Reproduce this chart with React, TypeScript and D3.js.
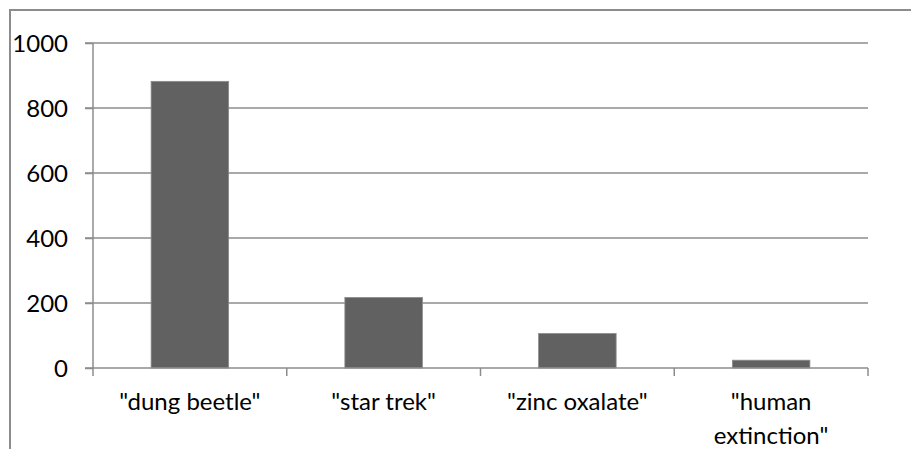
import React, { useEffect, useRef } from "react";
import * as d3 from "d3";

const categories = ['"dung beetle"', '"star trek"', '"zinc oxalate"', '"human extinction"'];
const values = [882, 217, 106, 24];
const yTicks = [0, 200, 400, 600, 800, 1000];

const App: React.FC = () => {
  const svgRef = useRef<SVGSVGElement>(null);

  useEffect(() => {
    const svg = d3.select(svgRef.current);
    svg.selectAll("*").remove();

    const width = 911;
    const height = 449;
    const margin = { top: 43, right: 43, bottom: 81, left: 93 };
    const innerWidth = width - margin.left - margin.right;
    const innerHeight = height - margin.top - margin.bottom;
    const font = "Lato, 'Open Sans', sans-serif";
    const fontSize = 24;

    // chart frame (cut off at right and bottom)
    svg
      .append("rect")
      .attr("x", 10)
      .attr("y", 10)
      .attr("width", 940)
      .attr("height", 500)
      .attr("fill", "white")
      .attr("stroke", "#8c8c8c")
      .attr("stroke-width", 2);

    const xScale = d3.scaleBand().domain(categories).range([0, innerWidth]).paddingInner(0).paddingOuter(0);
    const yScale = d3.scaleLinear().domain([0, 1000]).range([innerHeight, 0]);

    const g = svg.append("g").attr("transform", `translate(${margin.left}, ${margin.top})`);

    // gridlines
    g.selectAll(".grid")
      .data(yTicks.filter((t) => t > 0))
      .enter()
      .append("line")
      .attr("x1", -8)
      .attr("x2", innerWidth)
      .attr("y1", (d) => yScale(d))
      .attr("y2", (d) => yScale(d))
      .attr("stroke", "#8c8c8c")
      .attr("stroke-width", 1.5);

    // bars
    const bw = xScale.bandwidth();
    const barW = bw / 2.5;
    g.selectAll(".bar")
      .data(values)
      .enter()
      .append("rect")
      .attr("x", (d, i) => (xScale(categories[i]) || 0) + (bw - barW) / 2)
      .attr("y", (d) => yScale(d))
      .attr("width", barW)
      .attr("height", (d) => innerHeight - yScale(d))
      .attr("fill", "#616161")
      .attr("stroke", "#8a8a8a")
      .attr("stroke-width", 0.8);

    // y axis
    const yAxis = d3.axisLeft(yScale).tickValues(yTicks).tickFormat(d3.format("d")).tickSize(8).tickPadding(17);
    const yg = g.append("g").call(yAxis);
    yg.select(".domain").attr("stroke", "#8c8c8c").attr("stroke-width", 1.5).attr("d", `M0,${innerHeight}V0`);
    yg.selectAll(".tick line").attr("stroke", "#8c8c8c").attr("stroke-width", 1.5);
    yg.selectAll(".tick text")
      .attr("font-size", fontSize)
      .attr("font-family", font)
      .attr("fill", "#000")
      .attr("dy", null)
      .attr("y", 8);

    // x axis
    const xg = g.append("g").attr("transform", `translate(0, ${innerHeight})`);
    xg.append("line")
      .attr("x1", -8)
      .attr("x2", innerWidth)
      .attr("stroke", "#8c8c8c")
      .attr("stroke-width", 1.5);
    const bounds = categories.map((c) => xScale(c) || 0).concat([innerWidth]);
    xg.selectAll(".xtick")
      .data(bounds)
      .enter()
      .append("line")
      .attr("x1", (d) => d)
      .attr("x2", (d) => d)
      .attr("y1", 0)
      .attr("y2", 8)
      .attr("stroke", "#8c8c8c")
      .attr("stroke-width", 1.5);

    categories.forEach((c) => {
      const cx = (xScale(c) || 0) + bw / 2;
      const words = c === '"human extinction"' ? ['"human', 'extinction"'] : [c];
      const t = xg
        .append("text")
        .attr("text-anchor", "middle")
        .attr("font-size", fontSize)
        .attr("font-family", font)
        .attr("fill", "#000");
      words.forEach((w, i) => {
        t.append("tspan").attr("x", cx).attr("y", 42 + i * 34).text(w);
      });
    });
  }, []);

  return <svg ref={svgRef} width={911} height={449} style={{ position: "absolute", left: 0, top: 0 }}></svg>;
};

export default App;
